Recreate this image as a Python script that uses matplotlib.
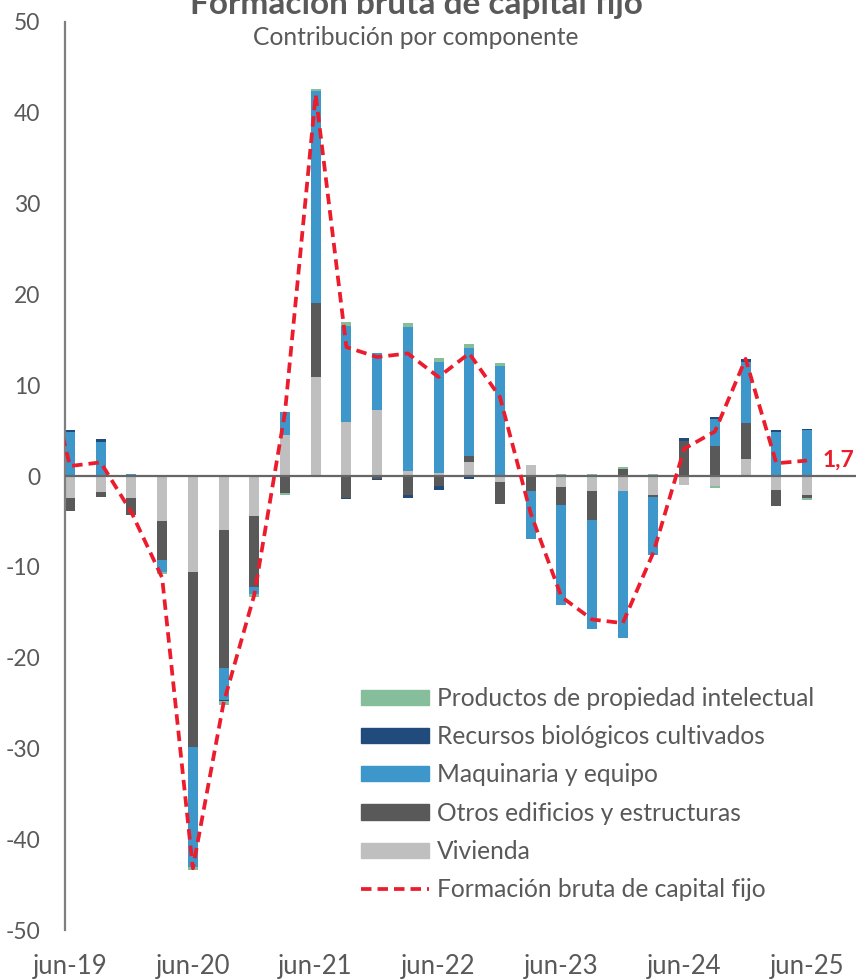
import numpy as np
import matplotlib
matplotlib.use('Agg')
import matplotlib.pyplot as plt
from matplotlib.patches import Patch
from matplotlib.lines import Line2D

plt.rcParams['font.family'] = ['Lato', 'DejaVu Sans']
plt.rcParams['axes.unicode_minus'] = False

# quarters jun-19 ... jun-25
quarters = ['jun-19', 'sep-19', 'dic-19', 'mar-20', 'jun-20', 'sep-20', 'dic-20',
            'mar-21', 'jun-21', 'sep-21', 'dic-21', 'mar-22', 'jun-22', 'sep-22',
            'dic-22', 'mar-23', 'jun-23', 'sep-23', 'dic-23', 'mar-24', 'jun-24',
            'sep-24', 'dic-24', 'mar-25', 'jun-25']
tick_labels = ['jun-19', 'jun-20', 'jun-21', 'jun-22', 'jun-23', 'jun-24', 'jun-25']

# contribution by component (percentage points)
vivienda = [-2.4, -1.8, -2.4, -5.0, -10.6, -5.9, -4.4, 4.5, 10.9, 6.0, 7.3, 0.55,
            0.37, 1.5, -0.7, 1.2, -1.2, -1.7, -1.6, -2.1, -0.95, -1.1, 1.9, -1.5, -2.1]
otros = [-1.4, -0.5, -1.9, -4.3, -19.2, -15.2, -7.8, -1.9, 8.1, -2.4, -0.35, -2.05,
         -1.1, 0.73, -2.4, -1.6, -2.0, -3.1, 0.8, -0.25, 3.9, 3.3, 3.9, -1.8, -0.3]
maquinaria = [4.9, 3.75, 0.26, -1.3, -13.3, -3.6, -0.75, 2.5, 23.4, 10.5, 6.2, 15.9,
              12.2, 11.9, 12.1, -5.3, -11.0, -12.0, -16.2, -6.3, 0.0, 2.95, 6.8, 4.85, 5.1]
recursos = [0.13, 0.29, 0.0, 0.0, 0.0, -0.05, 0.0, 0.1, 0.0, -0.17, -0.1, -0.37,
            -0.44, -0.3, 0.0, 0.0, 0.0, 0.0, 0.0, 0.0, 0.25, 0.25, 0.25, 0.25, 0.05]
productos = [-0.1, -0.05, 0.0, -0.18, -0.3, -0.45, -0.35, -0.2, 0.27, 0.46, 0.1, 0.35,
             0.45, 0.37, 0.3, 0.0, 0.2, 0.2, 0.15, 0.2, 0.0, -0.17, 0.0, 0.0, -0.2]

# total (line); first value is mar-19, only partly visible at the axis
fbkf = [15.0, 1.1, 1.5, -4.0, -11.2, -43.2, -25.0, -13.1, 7.0, 42.0, 14.2, 13.1,
        13.5, 10.9, 13.5, 8.7, -4.1, -13.3, -15.8, -16.2, -8.4, 3.0, 4.9, 12.9, 1.4, 1.7]

series = [('Vivienda', vivienda, '#BFBFBF'),
          ('Otros edificios y estructuras', otros, '#595959'),
          ('Maquinaria y equipo', maquinaria, '#3D97CB'),
          ('Recursos biológicos cultivados', recursos, '#224B7D'),
          ('Productos de propiedad intelectual', productos, '#86BE9C')]

text_col = '#595959'
red = '#EC1C2D'

fig = plt.figure(figsize=(8.56, 9.8), dpi=100)
ax = fig.add_axes([65 / 856, 50 / 980, 1 - 65 / 856, 908 / 980])

x = np.arange(len(quarters))
width = 0.326

# stack positives and negatives separately
pos = np.zeros(len(x))
neg = np.zeros(len(x))
for name, vals, col in series:
    v = np.array(vals)
    bottom = np.where(v >= 0, pos, neg)
    ax.bar(x, v, width, bottom=bottom, color=col, linewidth=0, zorder=2)
    pos = pos + np.where(v >= 0, v, 0)
    neg = neg + np.where(v < 0, v, 0)

ax.axhline(0, color='#666666', lw=1.6, zorder=3)

xl = np.arange(-1, len(quarters))
ax.plot(xl, fbkf, color=red, lw=2.7, ls=(0, (2.8, 1.6)), zorder=4)
ax.text(24.5, fbkf[-1], '1,7', color=red, fontsize=16.5, fontweight='bold',
        ha='left', va='center')

ax.set_xlim(-5 / 30.71, (856 - 70) / 30.71)
ax.set_ylim(-50, 50)
ax.set_yticks(np.arange(-50, 51, 10))
ax.set_xticks(x[::4])
ax.set_xticklabels(tick_labels)
ax.tick_params(axis='y', length=0, pad=18, labelsize=16.5, labelcolor=text_col)
ax.tick_params(axis='x', length=0, pad=17, labelsize=18.5, labelcolor=text_col)

for s in ['top', 'right', 'bottom']:
    ax.spines[s].set_visible(False)
ax.spines['left'].set_color('#7F7F7F')
ax.spines['left'].set_linewidth(1.6)

# legend, top to bottom as in the original
handles = [Patch(color=col) for name, vals, col in series[::-1]]
labels = [name for name, vals, col in series[::-1]]
handles.append(Line2D([], [], color=red, lw=2.7, ls=(0, (2.8, 1.6))))
labels.append('Formación bruta de capital fijo')
fig.legend(handles, labels, loc='upper left', bbox_to_anchor=(361 / 856, 1 - 687 / 980),
           frameon=False, fontsize=17.7, labelcolor=text_col, handlelength=2.78,
           handleheight=0.57, handletextpad=0.3, labelspacing=0.62, borderpad=0,
           borderaxespad=0)

fig.text(416 / 856, 1 - 14 / 980, 'Formación bruta de capital fijo', ha='center',
         va='baseline', fontsize=24, fontweight='bold', color=text_col)
fig.text(416 / 856, 1 - 45 / 980, 'Contribución por componente', ha='center',
         va='baseline', fontsize=17.7, color=text_col)

fig.savefig('out.png', dpi=100)
